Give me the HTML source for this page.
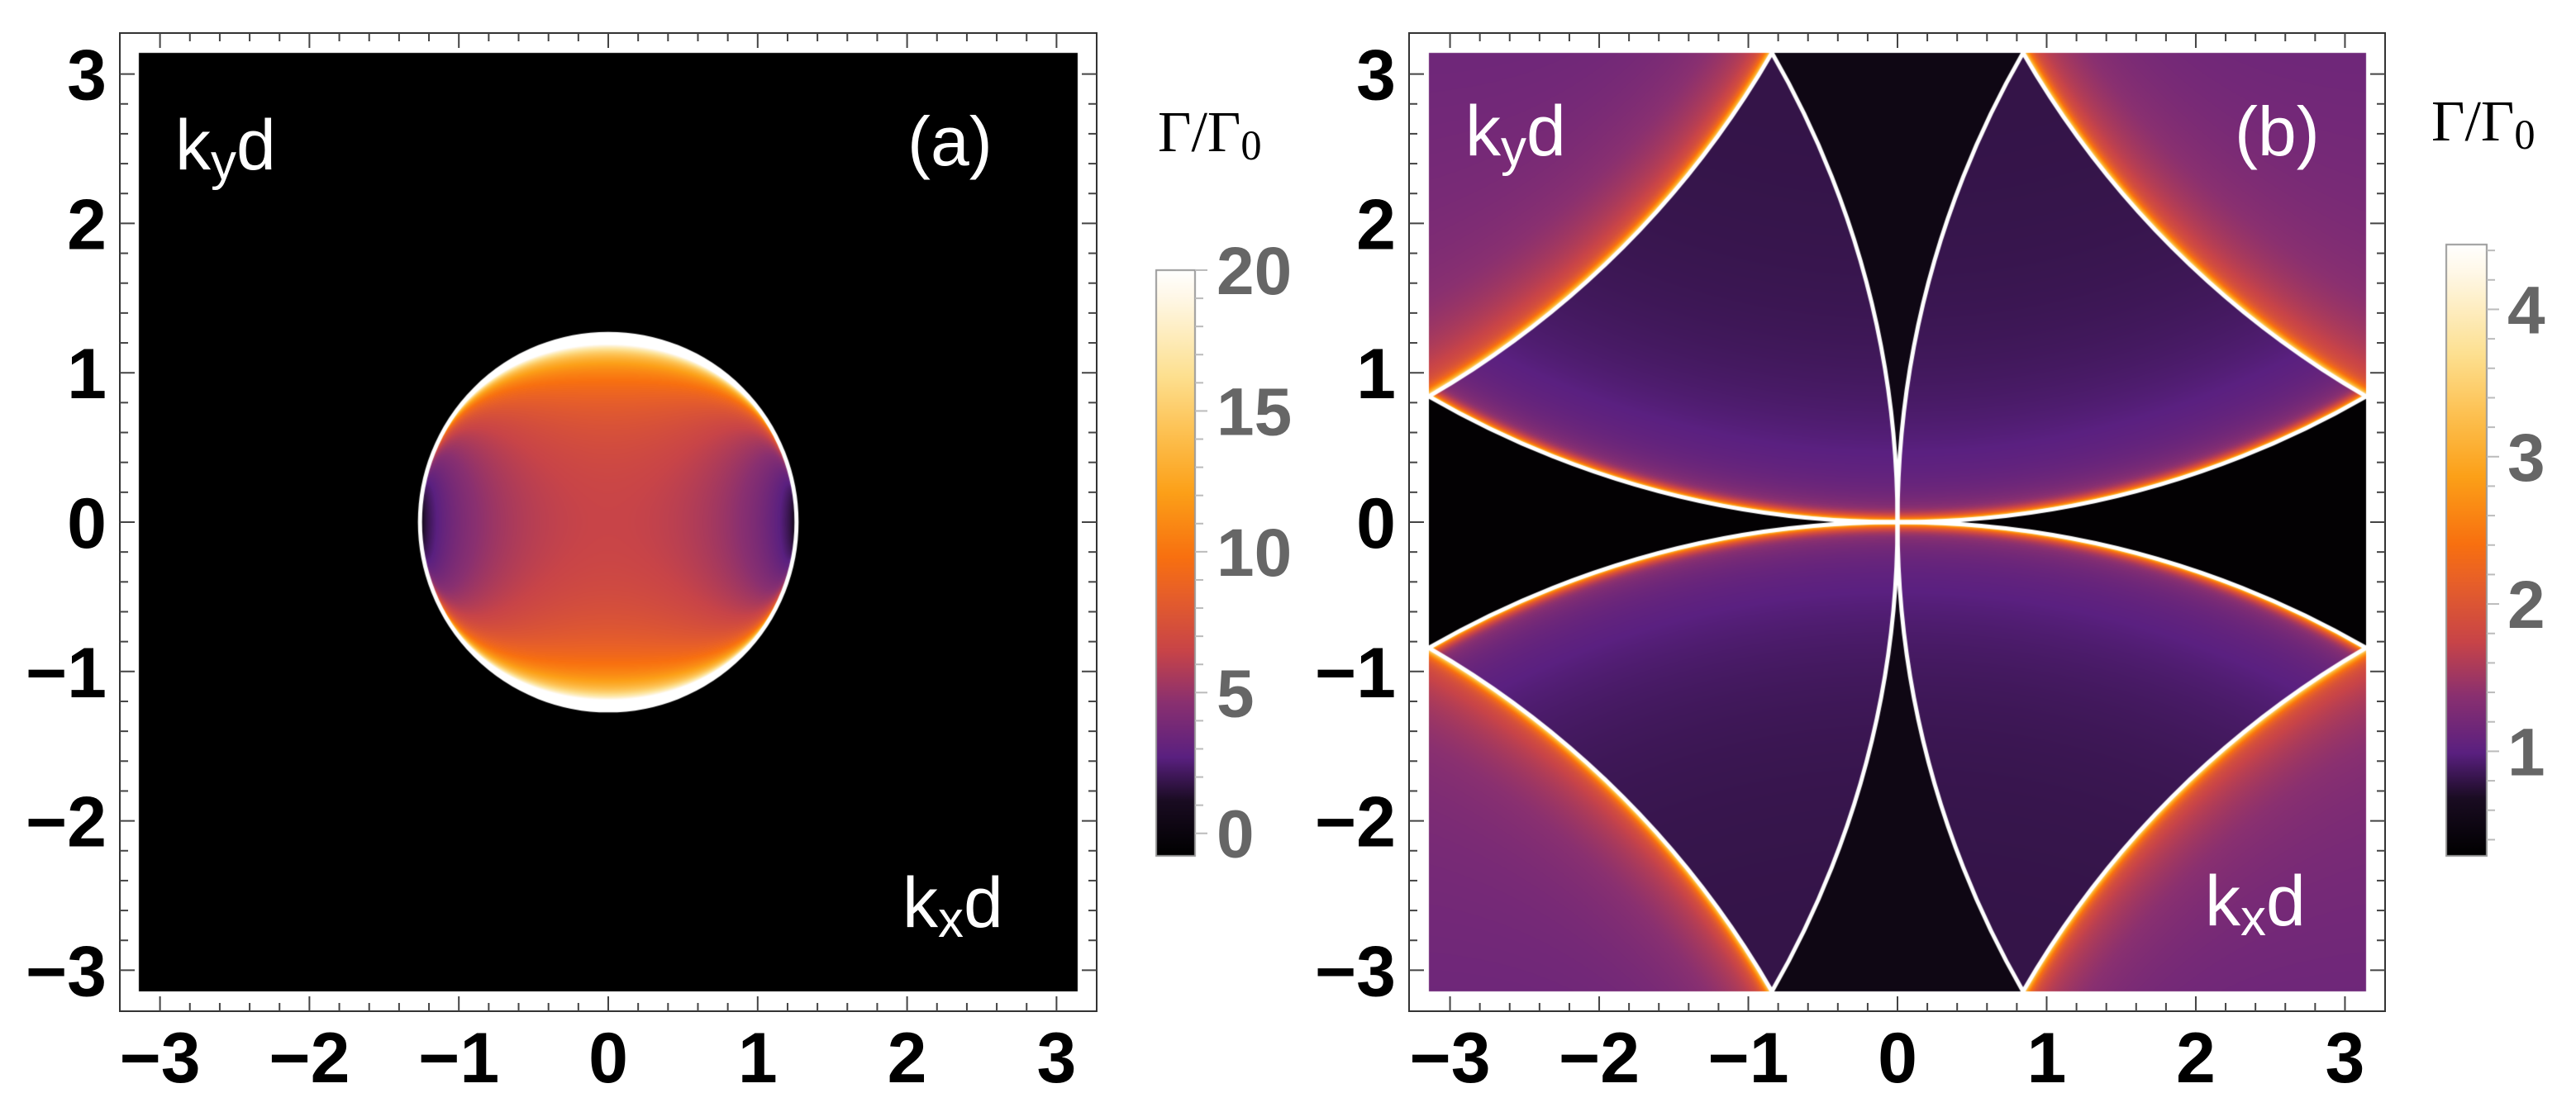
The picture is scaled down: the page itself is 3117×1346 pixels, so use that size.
<!DOCTYPE html>
<html><head><meta charset="utf-8"><style>
html,body{margin:0;padding:0;background:#fff;}
#wrap{position:relative;width:3117px;height:1346px;overflow:hidden;background:#fff;}
canvas,svg{position:absolute;left:0;top:0;}
</style></head><body>
<div id="wrap">
<canvas id="cv" width="3117" height="1346"></canvas>
<svg id="sv" width="3117" height="1346" xmlns="http://www.w3.org/2000/svg"></svg>
</div>
<script>
// ---- data ----
const xTicks = [-3, -2, -1, 0, 1, 2, 3];
const yTicks = [-3, -2, -1, 0, 1, 2, 3];
const tickLabels = ["\u22123", "\u22122", "\u22121", "0", "1", "2", "3"];
const cbarTicksA = [0, 5, 10, 15, 20];
const cbarRangeA = [-0.8, 20];
const cbarTicksB = [1, 2, 3, 4];
const cbarRangeB = [0.29, 4.44];
const circleRadiusA = [1.26];
const centerValueA = [6.5];
const latticeCenters = [[2,0],[-2,0],[0,2],[0,-2],[2,2],[2,-2],[-2,2],[-2,-2]]; // in units of pi
const regionValuesB = [0.33, 0.52, 0.80, 1.15]; // side-middle, top-middle, petal, corner
const cmapPos = [0, 0.094, 0.168, 0.262, 0.35, 0.45, 0.51, 0.62, 0.72, 0.82, 0.955, 1];
const cmapCol = ["#000000","#1a0c22","#5a2080","#8a3070","#c84448","#e86028","#f87010","#fca018","#fdc050","#fde090","#fff8e8","#ffffff"];

// ---- geometry ----
const PA = {x0:168, x1:1304, y0:64, y1:1200, fx0:145, fx1:1327, fy0:40, fy1:1224};
const PB = {x0:1729, x1:2863, y0:64, y1:1200, fx0:1705, fx1:2886, fy0:40, fy1:1224};
const PI = Math.PI;
function sx(P, v){ return (P.x0+P.x1)/2 + v*(P.x1-P.x0)/(2*PI); }
function sy(P, v){ return (P.y0+P.y1)/2 - v*(P.y1-P.y0)/(2*PI); }

const rgb = cmapCol.map(h=>[parseInt(h.substr(1,2),16),parseInt(h.substr(3,2),16),parseInt(h.substr(5,2),16)]);
function cmap(t){
  t = Math.max(0, Math.min(1, t));
  for (let i=1;i<cmapPos.length;i++){
    if (t <= cmapPos[i]){
      const f=(t-cmapPos[i-1])/(cmapPos[i]-cmapPos[i-1]);
      const a=rgb[i-1], b=rgb[i];
      return [a[0]+(b[0]-a[0])*f, a[1]+(b[1]-a[1])*f, a[2]+(b[2]-a[2])*f];
    }
  }
  return rgb[rgb.length-1];
}

const cv = document.getElementById('cv');
const ctx = cv.getContext('2d');

// Panel A heatmap
(function(){
  const P=PA, w=P.x1-P.x0, h=P.y1-P.y0;
  const img = ctx.createImageData(w,h);
  const r = circleRadiusA[0];
  for (let j=0;j<h;j++){
    const y = PI - (j+0.5)*2*PI/h;
    for (let i=0;i<w;i++){
      const x = -PI + (i+0.5)*2*PI/w;
      const q = (x*x+y*y)/(r*r);
      let v = cbarRangeA[0];
      if (q < 1){
        v = centerValueA[0]*(1 - x*x/(r*r))/Math.sqrt(1-q);
      }
      const t = (v - cbarRangeA[0])/(cbarRangeA[1]-cbarRangeA[0]);
      const c = q<1 ? cmap(t) : [0,0,0];
      const k=(j*w+i)*4;
      img.data[k]=c[0]; img.data[k+1]=c[1]; img.data[k+2]=c[2]; img.data[k+3]=255;
    }
  }
  ctx.putImageData(img, P.x0, P.y0);
  ctx.save();
  ctx.strokeStyle="#fff"; ctx.lineWidth=5;
  ctx.beginPath();
  ctx.ellipse(sx(P,0), sy(P,0), r*(P.x1-P.x0)/(2*PI), r*(P.y1-P.y0)/(2*PI), 0, 0, 2*PI);
  ctx.stroke();
  ctx.restore();
})();

// Panel B heatmap
(function(){
  const P=PB, w=P.x1-P.x0, h=P.y1-P.y0;
  const img = ctx.createImageData(w,h);
  const R = 2*PI;
  for (let j=0;j<h;j++){
    const y = PI - (j+0.5)*2*PI/h;
    const syg = y>=0?1:-1;
    for (let i=0;i<w;i++){
      const x = -PI + (i+0.5)*2*PI/w;
      const sxg = x>=0?1:-1;
      const dV = R - Math.hypot(x - sxg*R, y);
      const dH = R - Math.hypot(x, y - syg*R);
      const dC = R - Math.hypot(x - sxg*R, y - syg*R);
      let v;
      if (dC > 0){
        v = regionValuesB[3] + 0.2*(1 - Math.min(1, Math.abs(y)/PI)) + 0.8*Math.exp(-dC/0.3) + 2.4*Math.exp(-dC/0.03);
      } else if (dH > 0 && dV > 0){
        v = regionValuesB[2] + 0.4*Math.exp(-dH/0.6) + 0.5*Math.exp(-dH/0.1) + 2.6*Math.exp(-dH/0.025);
      } else if (dH > 0){
        v = regionValuesB[1];
      } else {
        v = regionValuesB[0];
      }
      const t = (v - cbarRangeB[0])/(cbarRangeB[1]-cbarRangeB[0]);
      const c = cmap(t);
      const k=(j*w+i)*4;
      img.data[k]=c[0]; img.data[k+1]=c[1]; img.data[k+2]=c[2]; img.data[k+3]=255;
    }
  }
  ctx.putImageData(img, P.x0, P.y0);
  ctx.save();
  ctx.beginPath(); ctx.rect(P.x0,P.y0,w,h); ctx.clip();
  ctx.strokeStyle="#fff"; ctx.lineWidth=5;
  latticeCenters.forEach(c=>{
    ctx.beginPath();
    ctx.ellipse(sx(P,c[0]*PI), sy(P,c[1]*PI), R*(P.x1-P.x0)/(2*PI), R*(P.y1-P.y0)/(2*PI), 0, 0, 2*PI);
    ctx.stroke();
  });
  ctx.restore();
})();

// Colorbars
function drawBar(x0,x1,y0,y1){
  const g = ctx.createLinearGradient(0,y1,0,y0);
  cmapPos.forEach((p,i)=>g.addColorStop(p,cmapCol[i]));
  ctx.fillStyle=g; ctx.fillRect(x0,y0,x1-x0,y1-y0);
  ctx.strokeStyle="#999"; ctx.lineWidth=2; ctx.strokeRect(x0,y0,x1-x0,y1-y0);
}
drawBar(1399,1446,327,1036);
drawBar(2960,3009,296,1036);

// ---- SVG overlay ----
const NS="http://www.w3.org/2000/svg";
const sv=document.getElementById('sv');
function el(tag, attrs, parent){
  const e=document.createElementNS(NS,tag);
  for (const k in attrs) e.setAttribute(k, attrs[k]);
  (parent||sv).appendChild(e); return e;
}
function drawFrame(P, tag){
  const g = el('g',{});
  
  
  const fr = el('rect',{x:P.fx0,y:P.fy0,width:P.fx1-P.fx0,height:P.fy1-P.fy0,fill:'none',stroke:'#333','stroke-width':2},g);
  
  
  for (let m=-16;m<=16;m++){
    const v=m*0.2; if (Math.abs(v)>PI) continue;
    const major = (m%5===0);
    const L = major?18:10;
    const X=sx(P,v), Y=sy(P,v);
    el('line',{x1:X,y1:P.fy1,x2:X,y2:P.fy1-L,stroke:'#444','stroke-width':2},g);
    el('line',{x1:X,y1:P.fy0,x2:X,y2:P.fy0+L,stroke:'#444','stroke-width':2},g);
    el('line',{x1:P.fx0,y1:Y,x2:P.fx0+L,y2:Y,stroke:'#444','stroke-width':2},g);
    el('line',{x1:P.fx1,y1:Y,x2:P.fx1-L,y2:Y,stroke:'#444','stroke-width':2},g);
  }
  xTicks.forEach((v,i)=>{
    const t=el('text',{x:sx(P,v),y:1310,'text-anchor':'middle','font-family':'Liberation Sans, Arial, sans-serif','font-weight':'bold','font-size':86,fill:'#000'},g);
    t.textContent=tickLabels[i];
    
    
  });
  yTicks.forEach((v,i)=>{
    const t=el('text',{x:P.fx0-16,y:sy(P,v)+31,'text-anchor':'end','font-family':'Liberation Sans, Arial, sans-serif','font-weight':'bold','font-size':86,fill:'#000'},g);
    t.textContent=tickLabels[i];
    
    
  });
}
drawFrame(PA,'panel-a');
drawFrame(PB,'panel-b');

function cbarAxis(ticks, range, x1, y0, y1, lx, tag){
  const g = el('g',{});
  
  
  const Y = v => y1 - (v-range[0])/(range[1]-range[0])*(y1-y0);
  const step=(ticks[1]-ticks[0])/5;
  for (let v=Math.ceil(range[0]/step)*step; v<=range[1]+1e-9; v+=step){
    const major = Math.abs(v/(ticks[1]-ticks[0]) - Math.round(v/(ticks[1]-ticks[0])))<1e-6;
    el('line',{x1:x1,y1:Y(v),x2:x1+(major?15:10),y2:Y(v),stroke:'#bbb','stroke-width':2},g);
  }
  ticks.forEach(v=>{
    const t=el('text',{x:lx,y:Y(v)+29,'font-family':'Liberation Sans, Arial, sans-serif','font-weight':'bold','font-size':82,fill:'#666'},g);
    t.textContent=String(v);
    
    
  });
}
cbarAxis(cbarTicksA, cbarRangeA, 1446, 327, 1036, 1472, 'colorbar-a');
cbarAxis(cbarTicksB, cbarRangeB, 3009, 296, 1036, 3034, 'colorbar-b');

function label(x,y,main,sub,rest,size,name,color,fam){
  const t=el('text',{x:x,y:y,'font-family':fam||'Liberation Sans, Arial, sans-serif','font-size':size,fill:color||'#fff'});
  
  
  const a=el('tspan',{},t); a.textContent=main;
  if (sub){ const b=el('tspan',{'font-size':size*0.72,dy:size*0.14},t); b.textContent=sub;
    if (rest){ const c=el('tspan',{dy:-size*0.14},t); c.textContent=rest; } }
  return t;
}
label(212,205,'k','y','d',86,'panel-a-ky-label');
label(1098,200,'(a)',null,null,84,'panel-a-tag');
label(1092,1122,'k','x','d',86,'panel-a-kx-label');
label(1773,188,'k','y','d',86,'panel-b-ky-label');
label(2704,188,'(b)',null,null,84,'panel-b-tag');
label(2668,1120,'k','x','d',86,'panel-b-kx-label');
label(1401,183,'\u0393/\u0393','0',null,70,'colorbar-a-title','#000','Liberation Serif, serif');
label(2942,170,'\u0393/\u0393','0',null,70,'colorbar-b-title','#000','Liberation Serif, serif');
</script>
</body></html>
